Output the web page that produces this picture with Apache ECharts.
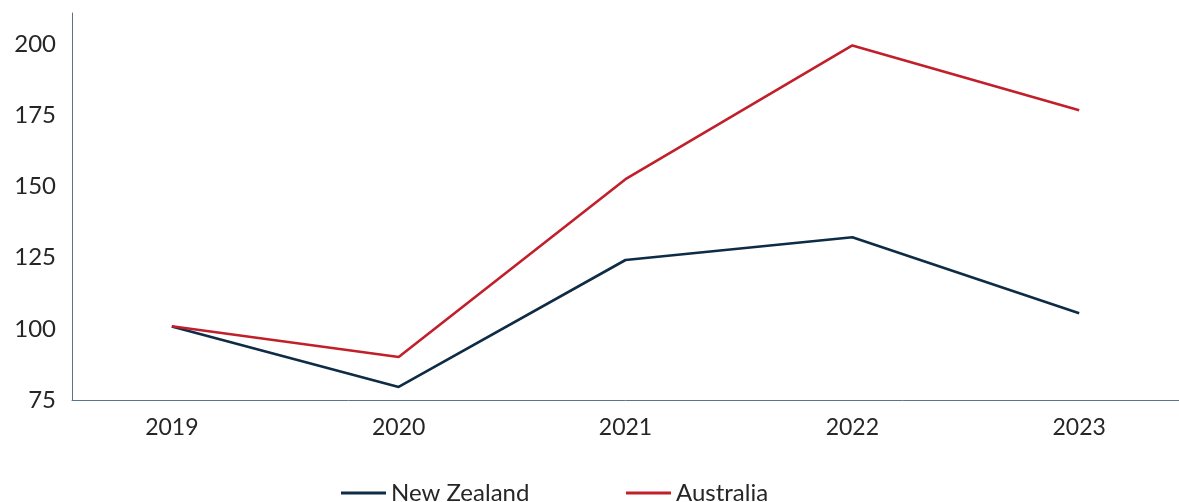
<!DOCTYPE html>
<html>
<head>
<meta charset="utf-8">
<script src="https://cdn.jsdelivr.net/npm/echarts@6/dist/echarts.min.js"></script>
<style>
  html, body { margin: 0; padding: 0; background: #ffffff; }
  #chart { width: 1179px; height: 502px; }
</style>
</head>
<body>
<div id="chart"></div>
<script>
// Index values by year (2019 = 100)
const years = [2019, 2020, 2021, 2022, 2023];
const newZealand = [100.8, 79.6, 124.2, 132.2, 105.5];
const australia = [100.9, 90.1, 152.6, 199.6, 176.8];
const yTicks = [75, 100, 125, 150, 175, 200];

const textColor = '#262626';
const axisColor = '#5b7489';
const font = 'Lato';

const pairs = (vals) => years.map((y, i) => [y, vals[i]]);

const chart = echarts.init(document.getElementById('chart'));
chart.setOption({
  animation: false,
  grid: { left: 72, right: 0, top: 13, bottom: 102 },
  xAxis: {
    type: 'value',
    min: years[0] - 0.44,
    max: years[years.length - 1] + 0.44,
    splitLine: { show: false },
    axisLine: { show: true, lineStyle: { color: axisColor, width: 1 } },
    axisTick: { show: false },
    axisLabel: {
      customValues: years,
      formatter: (v) => String(v),
      color: textColor,
      fontFamily: font,
      fontSize: 23,
      margin: 16
    }
  },
  yAxis: {
    type: 'value',
    min: 75,
    max: 211,
    interval: 25,
    splitLine: { show: false },
    axisLine: { show: true, lineStyle: { color: axisColor, width: 1 } },
    axisTick: { show: false },
    axisLabel: {
      customValues: yTicks,
      color: textColor,
      fontFamily: font,
      fontSize: 24,
      margin: 16
    }
  },
  legend: [
    {
      left: 336, top: 476,
      icon: 'rect', itemWidth: 45, itemHeight: 3, itemGap: 8,
      textStyle: { color: textColor, fontFamily: font, fontSize: 24 },
      data: ['New Zealand']
    },
    {
      left: 621, top: 476,
      icon: 'rect', itemWidth: 45, itemHeight: 3, itemGap: 8,
      textStyle: { color: textColor, fontFamily: font, fontSize: 24 },
      data: ['Australia']
    }
  ],
  series: [
    {
      name: 'New Zealand',
      type: 'line',
      data: pairs(newZealand),
      symbol: 'none',
      itemStyle: { color: '#0e2c45' },
      lineStyle: { color: '#0e2c45', width: 2.6 }
    },
    {
      name: 'Australia',
      type: 'line',
      data: pairs(australia),
      symbol: 'none',
      itemStyle: { color: '#c1202b' },
      lineStyle: { color: '#c1202b', width: 2.6 }
    }
  ]
});
</script>
</body>
</html>
